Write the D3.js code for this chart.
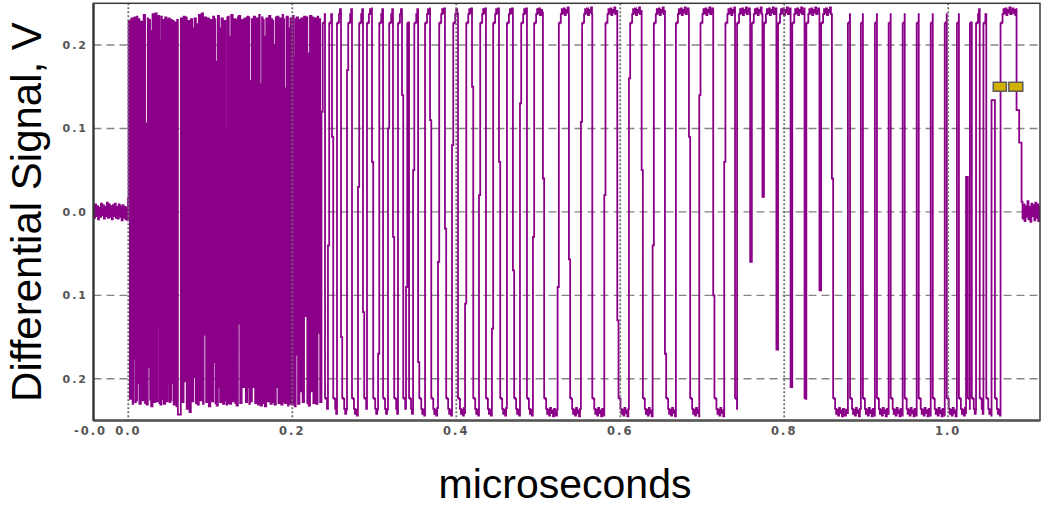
<!DOCTYPE html>
<html>
<head>
<meta charset="utf-8">
<script src="https://cdn.jsdelivr.net/npm/d3@7"></script>
<style>
  html, body { margin: 0; padding: 0; background: #fff; }
  svg { display: block; }
</style>
</head>
<body>
<svg id="chart" width="1043" height="509"></svg>
<script>
// ---- axis ticks ----
const xTickValues = [-0.0425, 0.0, 0.2, 0.4, 0.6, 0.8, 1.0];
const xTickLabels = ["-0.0", "0.0", "0.2", "0.4", "0.6", "0.8", "1.0"];
const xGridValues = [0.0, 0.2, 0.4, 0.6, 0.8, 1.0];
const yTickValues = [0.2, 0.1, 0.0, -0.1, -0.2];
const yTickLabels = ["0.2", "0.1", "0.0", "0.1", "0.2"];

// ---- trace: [time ns, level mV]; each level holds until the next entry ----
// baseline before the burst starts
const preTrigger = [
  [-43, 6], [-41.8, -7], [-40.6, 9], [-39.4, -5], [-38.2, 7], [-37, -9], [-35.8, 5],
  [-34.6, -6], [-33.4, 10], [-32.2, -4], [-31, 8], [-29.8, -8], [-28.6, 6], [-27.4, -5],
  [-26.2, 11], [-25, -7], [-23.8, 9], [-22.6, -6], [-21.4, 7], [-20.2, -9], [-19, 8],
  [-17.8, -5], [-16.6, 10], [-15.4, -7], [-14.2, 6], [-13, -8], [-11.8, 9], [-10.6, -6],
  [-9.4, 7], [-8.2, -10], [-7, 8], [-5.8, -7], [-4.6, 6], [-3.4, -9], [-2.2, 5], [-1.0, -10],
  [-0.4, 16]
];

// fast toggling burst, 0 – 235 ns
const burst = [
  [0.3,229],[1.9,-224],[3.6,232],[5.3,-230],[6.0,231],[6.6,-176],[7.3,233],[8.5,-228],
  [9.2,175],[10.0,-226],[10.6,234],[11.1,-205],[11.8,231],[13.5,-230],[15.2,228],[17.0,-226],
  [18.7,236],[20.4,-229],[21.3,106],[22.1,-231],[23.7,232],[24.2,-186],[25.0,230],[26.6,-225],
  [27.1,217],[27.8,-233],[29.5,237],[31.2,-228],[32.9,238],[34.6,-227],[35.6,233],[36.1,-139],
  [36.9,235],[37.9,-229],[38.5,205],[39.2,-231],[40.3,234],[40.8,-224],[41.5,230],[43.2,-230],
  [44.9,233],[46.6,-227],[48.3,231],[48.8,-205],[49.6,232],[50.6,-228],[51.2,171],[51.9,-226],
  [52.5,230],[53.0,-205],[53.6,229],[55.3,-231],[57.0,227],[58.7,-233],[59.5,230],[60.4,-243],
  [64.0,232],[65.7,-228],[67.4,234],[68.8,-203],[69.5,233],[71.2,-236],[72.9,229],[74.5,-240],
  [76.2,231],[77.9,-227],[79.3,220],[80.1,-198],[80.8,232],[82.4,-229],[83.8,225],[84.4,-231],
  [86.0,236],[87.7,-226],[89.4,238],[91.1,-230],[91.8,229],[92.5,-147],[93.2,233],[94.9,-228],
  [96.6,232],[98.3,-233],[100.0,230],[101.7,-227],[103.4,234],[104.6,-180],[105.4,231],[106.2,-229],
  [106.9,180],[107.6,-232],[109.2,235],[110.6,-210],[111.2,220],[111.9,-228],[113.6,232],[115.3,-230],
  [117.0,229],[118.3,-226],[119.0,100],[119.7,-231],[120.6,233],[121.2,-190],[121.9,234],[122.5,-229],
  [123.1,210],[123.8,-230],[125.5,236],[127.2,-227],[128.9,231],[130.6,-229],[131.3,230],[132.0,-232],
  [133.6,233],[134.1,-134],[134.8,235],[136.5,-229],[138.2,230],[139.9,-210],[141.6,232],[143.3,-228],
  [145.0,234],[146.2,-210],[146.9,233],[147.6,-230],[148.3,157],[149.0,-227],[150.7,231],[152.3,-210],
  [153.0,234],[154.7,-229],[156.4,232],[158.1,-231],[159.6,236],[160.3,-228],[160.8,153],[161.5,-232],
  [163.1,233],[163.8,-180],[164.5,230],[165.2,-229],[165.8,210],[166.5,-233],[168.2,232],[169.9,-227],
  [171.6,235],[173.3,-230],[175.0,231],[175.5,-136],[176.2,229],[176.9,-228],[177.5,200],[178.2,-231],
  [179.9,233],[180.7,-210],[181.4,234],[183.1,-229],[184.8,232],[186.5,-231],[188.2,236],[188.8,-220],
  [189.5,231],[190.1,-228],[190.6,148],[191.3,-229],[193.0,234],[194.7,-232],[195.3,220],[196.0,-230],
  [197.7,232],[199.4,-231],[201.1,235],[201.7,-228],[202.3,185],[203.0,-233],[204.1,231],[204.6,-171],
  [205.3,233],[207.0,-230],[208.7,230],[210.2,-215],[210.9,232],[212.6,-228],[214.3,234],[216.3,-125],
  [217.0,233],[218.3,-229],[219.2,190],[219.9,-232],[221.6,235],[223.3,-215],[224.0,233],[225.7,-229],
  [227.4,232],[229.1,-230],[230.8,234],[231.6,-145],[232.3,231],[234.0,-228]
];

// slower bit pattern, 235 – 1064 ns.
// Each edge: [time ns, intermediate step mV (or null), flat level mV for partial swings].
// Edges alternate rising / falling, starting with a rise.
const patternEdges = [
  [235.6,120],[239.9,null],[243.5,-40],[248.4,90],[254.5,null],[259.4,-150],[266.7,170],[272.8,null],
  [280.1,30],[286.2,-120],[291.1,null],[297.2,60],[304.6,-170],[310.7,null],[316.7,100],[322.8,-30],
  [328.9,null],[333.8,140],[338.7,-90],[342.4,null],[347.3,50],[353.4,-180],[361.9,null],[368.0,110],
  [377.7,-60],[386.2,-20],[394.8,80],[402.1,null],[410.7,-110],[419.2,150],[427.7,20],[436.2,null],
  [443.5,-140],[452.1,60],[461.8,null],[469.1,-70],[477.7,130],[486.2,null],[493.5,-30],[505.7,40],
  [523.6,-90],[537.4,-57],[552.0,108],[565.9,null],[580.5,20],[596.4,-130],[610.6,160],[626.1,50],
  [639.5,-40],[654.5,-170],[667.9,null],[683.8,90],[696.4,140],[713.4,-100],[726.8,60],
  [740.0,null],[742.5,null],[758.5,null,-60],[760.5,null],[773.5,null,18],[775.3,null],
  [790.5,null,-165],[792.5,null],[807.8,null,-210],[809.8,null],[824.8,null],[827.0,null],
  [843.0,null,-94],[845.0,null],[858.2,40],
  [877.7,null],[880.3,null],[893.5,null],[896.0,null],[910.6,null],[913.1,null],[927.4,null],[929.9,null],
  [944.5,null],[947.0,null],[961.6,null],[964.1,null],[978.7,null],[981.2,null],[995.8,null],[998.3,null],
  [1010.6,null],[1013.1,null],[1021.8,null,42],[1024.0,null],[1026.5,null],[1028.8,null],
  [1034.0,null],[1038.5,null],[1043.0,null],[1046.5,null],[1052.9,null,134],[1057.0,null],
  [1063.9,null]
];

// ripple seen across a high / low plateau, one value per 1.2 ns sample:
// a short shelf right after the edge, then a noisy band
const highCap = [226,227,237,243,238,244,236,242,239,245,237,241,244,238,242,236,243,240,245,238,
                 241,237,244,239,242,236,243,238,245,240,237,242,239,244,236,241,243,238,242,239];
const lowCap  = [-223,-224,-236,-242,-237,-244,-235,-241,-238,-245,-236,-242,-244,-237,-241,-235,-243,-239,-245,-238,
                 -241,-236,-244,-239,-242,-237,-243,-238,-245,-240,-236,-242,-239,-244,-237,-241,-243,-238,-242,-239];

// fall back to the baseline and settle
const tailSteps = [[1083.4, 122], [1086.6, 83]];
const postTrigger = [
  [1089.5, 12], [1090.7, -8], [1091.9, 9], [1093.1, -11], [1094.3, 7], [1095.5, -6], [1096.7, 13],
  [1097.9, -9], [1099.1, 6], [1100.3, -12], [1101.5, 10], [1102.7, -5], [1103.9, 8], [1105.1, -10],
  [1106.3, 11], [1107.5, -7], [1108.7, 9], [1109.9, -11], [1111.1, 6]
];

// cursor boxes drawn at the top right
const markerStart = [1.055, 1.074];
const markerEnd   = [1.071, 1.091];
const markerLevel = 0.15;

// ---- expand the bit pattern edges into level steps ----
const jogWidth = 1.5;  // ns an edge lingers at its intermediate level
const capStep = 1.2;   // ns between ripple samples
function expandPattern() {
  const out = [];
  let rising = true;
  patternEdges.forEach(([t, jog, level], i) => {
    const tEnd = i + 1 < patternEdges.length ? patternEdges[i + 1][0] : tailSteps[0][0];
    let t0 = t;
    if (jog != null && tEnd - t > 2 * jogWidth) {
      out.push([t, jog]);
      t0 = t + jogWidth;
    }
    if (level != null) {
      out.push([t0, level]);
    } else {
      const cap = rising ? highCap : lowCap;
      for (let k = 0; k < cap.length && t0 + k * capStep < tEnd; k++) {
        out.push([t0 + k * capStep, cap[k]]);
      }
    }
    rising = !rising;
  });
  return out;
}

// ---- layout ----
const svg = d3.select("#chart");
const plot = { left: 93.5, right: 1040, top: 3.3, bottom: 420.5 };

const x = d3.scaleLinear().domain([-0.0425, 1.112]).range([plot.left, plot.right]);
const y = d3.scaleLinear().domain([-0.25, 0.25]).range([plot.bottom, plot.top]);

svg.append("defs").append("clipPath").attr("id", "plotClip")
  .append("rect")
  .attr("x", plot.left).attr("y", plot.top)
  .attr("width", plot.right - plot.left).attr("height", plot.bottom - plot.top);

// horizontal dashed grid (behind the trace)
svg.append("g")
  .selectAll("line").data(yTickValues).join("line")
  .attr("x1", plot.left).attr("x2", plot.right)
  .attr("y1", d => y(d)).attr("y2", d => y(d))
  .attr("stroke", "#858585").attr("stroke-width", 1.4)
  .attr("stroke-dasharray", "8,5");

// the signal trace
const samples = [...preTrigger, ...burst, ...expandPattern(), ...tailSteps, ...postTrigger]
  .map(([t, mv]) => ({ t: t / 1000, v: mv / 1000 }));
samples.push({ t: x.domain()[1], v: samples[samples.length - 1].v });

const line = d3.line()
  .x(d => x(d.t))
  .y(d => y(d.v))
  .curve(d3.curveStepAfter);

svg.append("path")
  .datum(samples)
  .attr("clip-path", "url(#plotClip)")
  .attr("d", line)
  .attr("fill", "none")
  .attr("stroke", "#8b0088")
  .attr("stroke-width", 1.8)
  .attr("stroke-linejoin", "miter");

// vertical dotted grid (over the trace)
svg.append("g")
  .selectAll("line").data(xGridValues).join("line")
  .attr("x1", d => x(d)).attr("x2", d => x(d))
  .attr("y1", plot.top).attr("y2", plot.bottom)
  .attr("stroke", "#707070").attr("stroke-width", 1.8)
  .attr("stroke-dasharray", "2,2");

// cursor boxes
svg.append("g")
  .selectAll("rect").data(markerStart).join("rect")
  .attr("x", (d, i) => x(d))
  .attr("width", (d, i) => x(markerEnd[i]) - x(d))
  .attr("y", y(markerLevel) - 4.5)
  .attr("height", 9)
  .attr("fill", "#d2b000")
  .attr("stroke", "#5c5c5c")
  .attr("stroke-width", 1.5);

// frame
svg.append("rect")
  .attr("x", plot.left).attr("y", plot.top)
  .attr("width", plot.right - plot.left).attr("height", plot.bottom - plot.top)
  .attr("fill", "none").attr("stroke", "#3a3a3a").attr("stroke-width", 1.5);
svg.append("line")
  .attr("x1", plot.left).attr("x2", plot.right)
  .attr("y1", plot.bottom).attr("y2", plot.bottom)
  .attr("stroke", "#555").attr("stroke-width", 2.5);
svg.append("line")
  .attr("x1", plot.left).attr("x2", plot.left)
  .attr("y1", plot.top).attr("y2", plot.bottom)
  .attr("stroke", "#333").attr("stroke-width", 2.2);

// x tick labels
svg.append("g")
  .selectAll("text").data(xTickValues).join("text")
  .attr("x", (d, i) => i === 0 ? x(d) - 3 : x(d))
  .attr("y", 435)
  .attr("text-anchor", "middle")
  .attr("font-family", "DejaVu Sans, sans-serif")
  .attr("font-weight", "bold")
  .attr("font-size", 11.5)
  .attr("letter-spacing", 2)
  .attr("fill", "#555")
  .text((d, i) => xTickLabels[i]);

// y tick labels
svg.append("g")
  .selectAll("text").data(yTickValues).join("text")
  .attr("x", 88)
  .attr("y", d => y(d) + 4)
  .attr("text-anchor", "end")
  .attr("font-family", "DejaVu Sans, sans-serif")
  .attr("font-weight", "bold")
  .attr("font-size", 11)
  .attr("letter-spacing", 2)
  .attr("fill", "#555")
  .text((d, i) => yTickLabels[i]);

// axis titles
svg.append("text")
  .attr("transform", "translate(41,212) rotate(-90)")
  .attr("text-anchor", "middle")
  .attr("font-family", "Liberation Sans, Arial, sans-serif")
  .attr("font-size", 42)
  .attr("fill", "#000")
  .text("Differential Signal, V");

svg.append("text")
  .attr("x", 565).attr("y", 498)
  .attr("text-anchor", "middle")
  .attr("font-family", "Liberation Sans, Arial, sans-serif")
  .attr("font-size", 41)
  .attr("fill", "#000")
  .text("microseconds");
</script>
</body>
</html>
